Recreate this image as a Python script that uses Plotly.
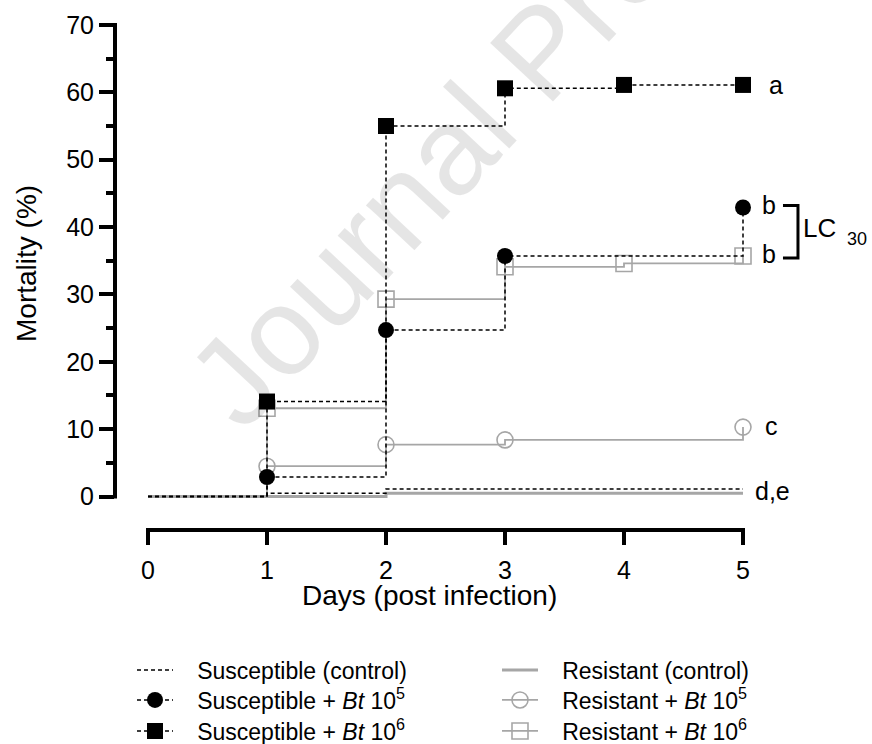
import plotly.graph_objects as go

# ---------------- data ----------------
days = [0, 1, 2, 3, 4, 5]
sus_ctrl = [0, 0.5, 1.1, 1.1, 1.1, 1.1]
sus_bt5 = [0, 2.9, 24.7, 35.7, 35.7, 42.9]
sus_bt6 = [0, 14.1, 55.0, 60.6, 61.1, 61.1]
res_ctrl = [0, 0, 0.5, 0.5, 0.5, 0.5]
res_bt5 = [0, 4.5, 7.7, 8.4, 8.4, 10.3]
res_bt6 = [0, 13.1, 29.3, 34.1, 34.6, 35.7]

# days on which a symbol is drawn
sus_bt5_marks = [1, 2, 3, 5]
sus_bt6_marks = [1, 2, 3, 4, 5]
res_bt5_marks = [1, 2, 3, 5]
res_bt6_marks = [1, 2, 3, 4, 5]

x_ticks = [0, 1, 2, 3, 4, 5]
y_ticks = [0, 10, 20, 30, 40, 50, 60, 70]
y_minor = [5, 15, 25, 35, 45, 55, 65]

names = {
    "sc": "Susceptible (control)",
    "rc": "Resistant (control)",
    "s5": "Susceptible + <i>Bt</i> 10<sup>5</sup>",
    "r5": "Resistant + <i>Bt</i> 10<sup>5</sup>",
    "s6": "Susceptible + <i>Bt</i> 10<sup>6</sup>",
    "r6": "Resistant + <i>Bt</i> 10<sup>6</sup>",
}

# ---------------- geometry / style ----------------
W, H = 872, 744
PLOT_L, PLOT_R, PLOT_T, PLOT_B = 115, 870, 20, 530   # plot area in page pixels
ML, MR, MT, MB = PLOT_L, W - PLOT_R, PLOT_T, H - PLOT_B
PW, PH = W - ML - MR, H - MT - MB
X0_PX, PX_PER_DAY = 148, 119.0      # page pixel of day 0, pixels per day
Y0_PX, PX_PER_UNIT = 496.5, 6.736   # page pixel of 0 %, pixels per %
xmin = -(X0_PX - PLOT_L) / PX_PER_DAY
xmax = xmin + PW / PX_PER_DAY
ymin = -(PLOT_B - Y0_PX) / PX_PER_UNIT
ymax = ymin + PH / PX_PER_UNIT

def px_x(px):
    return (px - PLOT_L) / PW

def px_y(py):
    return (PLOT_B - py) / PH

FONT = "Liberation Sans, Arial, sans-serif"
BLACK = "black"
GREY = "#a6a6a6"
DASH = "4px,3px"
MSIZE = 16

def pick(series, mark_days):
    return [series[days.index(d)] for d in mark_days]

fig = go.Figure()

def add_series(y, color, width, dash, mark_days=None, symbol=None, mline=0):
    fig.add_trace(go.Scatter(x=days, y=y, mode="lines", line_shape="hv",
                             line=dict(color=color, width=width, dash=dash),
                             showlegend=False, hoverinfo="skip"))
    if mark_days:
        fig.add_trace(go.Scatter(x=mark_days, y=pick(y, mark_days), mode="markers",
                                 marker=dict(symbol=symbol, size=MSIZE, color=color,
                                             line=dict(color=color, width=mline)),
                                 showlegend=False))

# grey (resistant) first, black on top
add_series(res_ctrl, GREY, 3, "solid")
add_series(res_bt5, GREY, 1.8, "solid", res_bt5_marks, "circle-open", 1.6)
add_series(res_bt6, GREY, 1.8, "solid", res_bt6_marks, "square-open", 1.6)
add_series(sus_ctrl, BLACK, 1.5, DASH)
add_series(sus_bt5, BLACK, 1.5, DASH, sus_bt5_marks, "circle")
add_series(sus_bt6, BLACK, 1.5, DASH, sus_bt6_marks, "square")

# ---------------- legend (one legend per entry for exact placement) ----------------
NB = "\u00a0\u00a0\u00a0"
leg_items = [
    ("legend",  names["sc"], BLACK, 1.5, DASH, None, 0, 137, 670),
    ("legend2", names["s5"], BLACK, 1.5, DASH, "circle", 0, 137, 700),
    ("legend3", names["s6"], BLACK, 1.5, DASH, "square", 0, 137, 731),
    ("legend4", names["rc"], GREY, 3, "solid", None, 0, 502, 670),
    ("legend5", names["r5"], GREY, 1.8, "solid", "circle-open", 1.6, 502, 700),
    ("legend6", names["r6"], GREY, 1.8, "solid", "square-open", 1.6, 502, 731),
]
legend_layout = {}
for key, name, color, lw, dash, sym, mlw, lx, ly in leg_items:
    tr = dict(x=[None], y=[None], name=NB + name, legend=key, showlegend=True,
              line=dict(color=color, width=lw, dash=dash))
    if sym:
        tr.update(mode="lines+markers",
                  marker=dict(symbol=sym, size=MSIZE, color=color,
                              line=dict(color=color, width=mlw)))
    else:
        tr.update(mode="lines")
    fig.add_trace(go.Scatter(**tr))
    legend_layout[key] = dict(x=px_x(lx - 5), y=px_y(ly), xanchor="left", yanchor="middle",
                              bgcolor="rgba(0,0,0,0)", borderwidth=0, itemwidth=36,
                              font=dict(family=FONT, size=23, color=BLACK))

# ---------------- axes (lines drawn as shapes, offset Prism style) ----------------
shapes = [
    dict(type="line", xref="paper", yref="paper",
         x0=(0 - xmin) / (xmax - xmin) - 2 / PW, x1=(5 - xmin) / (xmax - xmin) + 2 / PW,
         y0=0, y1=0, line=dict(color=BLACK, width=4)),
    dict(type="line", xref="paper", yref="paper", x0=0, x1=0,
         y0=(0 - ymin) / (ymax - ymin) - 2 / PH, y1=(70 - ymin) / (ymax - ymin) + 2 / PH,
         line=dict(color=BLACK, width=4)),
]
# LC30 bracket
bx0, bx1 = 5.336, 5.462
by0, by1 = 43.2, 35.4
shapes.append(dict(type="path", xref="x", yref="y",
                   path=f"M{bx0},{by0} L{bx1},{by0} L{bx1},{by1} L{bx0},{by1}",
                   line=dict(color=BLACK, width=3)))

annotations = [
    # watermark
    dict(text="Journal Pre-proof", xref="paper", yref="paper", x=px_x(540), y=px_y(51),
         xanchor="center", yanchor="middle",
         textangle=-47, showarrow=False, font=dict(family=FONT, size=125, color="rgba(0,0,0,0.1)")),
    # axis titles
    dict(text="Days (post infection)", xref="paper", yref="paper", x=px_x(429), y=px_y(595),
         xanchor="center", yanchor="middle",
         showarrow=False, font=dict(family=FONT, size=28, color=BLACK)),
    dict(text="Mortality (%)", xref="paper", yref="paper", x=px_x(26), y=px_y(264),
         xanchor="center", yanchor="middle",
         textangle=-90, showarrow=False, font=dict(family=FONT, size=28, color=BLACK)),
]
letters = [("a", 5.20, sus_bt6[-1], 0), ("b", 5.14, sus_bt5[-1], 3), ("b", 5.14, res_bt6[-1], 2),
           ("c", 5.17, res_bt5[-1], 1), ("d,e", 5.08, sus_ctrl[-1], -2)]
for t, x, y, ys in letters:
    annotations.append(dict(text=t, x=x, y=y, xref="x", yref="y", xanchor="left", yanchor="middle",
                            yshift=ys, showarrow=False, font=dict(family=FONT, size=25, color=BLACK)))
annotations.append(dict(text="LC", x=5.49, y=39.9, xref="x", yref="y", xanchor="left", yanchor="middle",
                        showarrow=False, font=dict(family=FONT, size=26, color=BLACK)))
annotations.append(dict(text="30", x=5.86, y=38.3, xref="x", yref="y", xanchor="left", yanchor="middle",
                        showarrow=False, font=dict(family=FONT, size=18, color=BLACK)))

fig.update_layout(
    width=W, height=H, margin=dict(l=ML, r=MR, t=MT, b=MB, pad=0, autoexpand=False),
    paper_bgcolor="white", plot_bgcolor="white",
    font=dict(family=FONT, color=BLACK),
    xaxis=dict(range=[xmin, xmax], tickmode="array", tickvals=x_ticks, ticks="outside",
               ticklen=14, tickwidth=4, tickcolor=BLACK, showline=False, showgrid=False,
               zeroline=False, ticklabelstandoff=4, automargin=False,
               tickfont=dict(family=FONT, size=25, color=BLACK)),
    yaxis=dict(range=[ymin, ymax], tickmode="array", tickvals=y_ticks, ticks="outside",
               ticklen=15, tickwidth=4, tickcolor=BLACK, showline=False, showgrid=False,
               zeroline=False, automargin=False, tickfont=dict(family=FONT, size=25, color=BLACK),
               minor=dict(tickmode="array", tickvals=y_minor, ticks="outside", ticklen=8,
                          tickwidth=4, tickcolor=BLACK, showgrid=False)),
    shapes=shapes, annotations=annotations,
    **legend_layout,
)

# remove the default page margin so the 872x744 figure fills the window exactly
fig.write_html("out.html", config={"displayModeBar": False},
               post_script="document.body.style.margin='0px';document.body.style.overflow='hidden';")
